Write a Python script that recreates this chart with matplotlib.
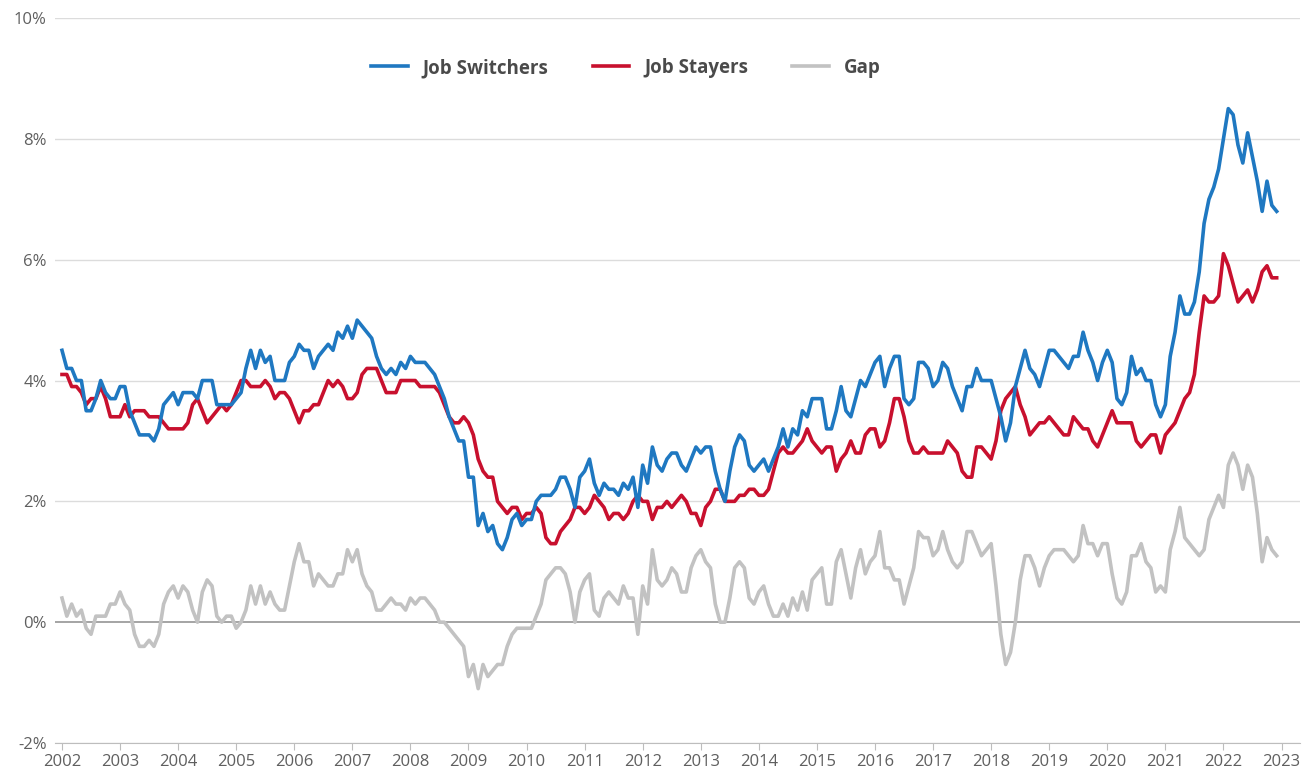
import matplotlib.pyplot as plt
import numpy as np

plt.rcParams['font.family'] = ['Open Sans', 'DejaVu Sans']

# monthly values, Jan 2002 - Dec 2022 (percent)
switchers = [
    4.5, 4.2, 4.2, 4.0, 4.0, 3.5, 3.5, 3.7, 4.0, 3.8, 3.7, 3.7,
    3.9, 3.9, 3.5, 3.3, 3.1, 3.1, 3.1, 3.0, 3.2, 3.6, 3.7, 3.8,
    3.6, 3.8, 3.8, 3.8, 3.7, 4.0, 4.0, 4.0, 3.6, 3.6, 3.6, 3.6,
    3.7, 3.8, 4.2, 4.5, 4.2, 4.5, 4.3, 4.4, 4.0, 4.0, 4.0, 4.3,
    4.4, 4.6, 4.5, 4.5, 4.2, 4.4, 4.5, 4.6, 4.5, 4.8, 4.7, 4.9,
    4.7, 5.0, 4.9, 4.8, 4.7, 4.4, 4.2, 4.1, 4.2, 4.1, 4.3, 4.2,
    4.4, 4.3, 4.3, 4.3, 4.2, 4.1, 3.9, 3.7, 3.4, 3.2, 3.0, 3.0,
    2.4, 2.4, 1.6, 1.8, 1.5, 1.6, 1.3, 1.2, 1.4, 1.7, 1.8, 1.6,
    1.7, 1.7, 2.0, 2.1, 2.1, 2.1, 2.2, 2.4, 2.4, 2.2, 1.9, 2.4,
    2.5, 2.7, 2.3, 2.1, 2.3, 2.2, 2.2, 2.1, 2.3, 2.2, 2.4, 1.9,
    2.6, 2.3, 2.9, 2.6, 2.5, 2.7, 2.8, 2.8, 2.6, 2.5, 2.7, 2.9,
    2.8, 2.9, 2.9, 2.5, 2.2, 2.0, 2.5, 2.9, 3.1, 3.0, 2.6, 2.5,
    2.6, 2.7, 2.5, 2.7, 2.9, 3.2, 2.9, 3.2, 3.1, 3.5, 3.4, 3.7,
    3.7, 3.7, 3.2, 3.2, 3.5, 3.9, 3.5, 3.4, 3.7, 4.0, 3.9, 4.1,
    4.3, 4.4, 3.9, 4.2, 4.4, 4.4, 3.7, 3.6, 3.7, 4.3, 4.3, 4.2,
    3.9, 4.0, 4.3, 4.2, 3.9, 3.7, 3.5, 3.9, 3.9, 4.2, 4.0, 4.0,
    4.0, 3.7, 3.4, 3.0, 3.3, 3.9, 4.2, 4.5, 4.2, 4.1, 3.9, 4.2,
    4.5, 4.5, 4.4, 4.3, 4.2, 4.4, 4.4, 4.8, 4.5, 4.3, 4.0, 4.3,
    4.5, 4.3, 3.7, 3.6, 3.8, 4.4, 4.1, 4.2, 4.0, 4.0, 3.6, 3.4,
    3.6, 4.4, 4.8, 5.4, 5.1, 5.1, 5.3, 5.8, 6.6, 7.0, 7.2, 7.5,
    8.0, 8.5, 8.4, 7.9, 7.6, 8.1, 7.7, 7.3, 6.8, 7.3, 6.9, 6.8,
]

stayers = [
    4.1, 4.1, 3.9, 3.9, 3.8, 3.6, 3.7, 3.7, 3.9, 3.7, 3.4, 3.4,
    3.4, 3.6, 3.4, 3.5, 3.5, 3.5, 3.4, 3.4, 3.4, 3.3, 3.2, 3.2,
    3.2, 3.2, 3.3, 3.6, 3.7, 3.5, 3.3, 3.4, 3.5, 3.6, 3.5, 3.6,
    3.8, 4.0, 4.0, 3.9, 3.9, 3.9, 4.0, 3.9, 3.7, 3.8, 3.8, 3.7,
    3.5, 3.3, 3.5, 3.5, 3.6, 3.6, 3.8, 4.0, 3.9, 4.0, 3.9, 3.7,
    3.7, 3.8, 4.1, 4.2, 4.2, 4.2, 4.0, 3.8, 3.8, 3.8, 4.0, 4.0,
    4.0, 4.0, 3.9, 3.9, 3.9, 3.9, 3.8, 3.6, 3.4, 3.3, 3.3, 3.4,
    3.3, 3.1, 2.7, 2.5, 2.4, 2.4, 2.0, 1.9, 1.8, 1.9, 1.9, 1.7,
    1.8, 1.8, 1.9, 1.8, 1.4, 1.3, 1.3, 1.5, 1.6, 1.7, 1.9, 1.9,
    1.8, 1.9, 2.1, 2.0, 1.9, 1.7, 1.8, 1.8, 1.7, 1.8, 2.0, 2.1,
    2.0, 2.0, 1.7, 1.9, 1.9, 2.0, 1.9, 2.0, 2.1, 2.0, 1.8, 1.8,
    1.6, 1.9, 2.0, 2.2, 2.2, 2.0, 2.0, 2.0, 2.1, 2.1, 2.2, 2.2,
    2.1, 2.1, 2.2, 2.5, 2.8, 2.9, 2.8, 2.8, 2.9, 3.0, 3.2, 3.0,
    2.9, 2.8, 2.9, 2.9, 2.5, 2.7, 2.8, 3.0, 2.8, 2.8, 3.1, 3.2,
    3.2, 2.9, 3.0, 3.3, 3.7, 3.7, 3.4, 3.0, 2.8, 2.8, 2.9, 2.8,
    2.8, 2.8, 2.8, 3.0, 2.9, 2.8, 2.5, 2.4, 2.4, 2.9, 2.9, 2.8,
    2.7, 3.0, 3.5, 3.7, 3.8, 3.9, 3.6, 3.4, 3.1, 3.2, 3.3, 3.3,
    3.4, 3.3, 3.2, 3.1, 3.1, 3.4, 3.3, 3.2, 3.2, 3.0, 2.9, 3.1,
    3.3, 3.5, 3.3, 3.3, 3.3, 3.3, 3.0, 2.9, 3.0, 3.1, 3.1, 2.8,
    3.1, 3.2, 3.3, 3.5, 3.7, 3.8, 4.1, 4.8, 5.4, 5.3, 5.3, 5.4,
    6.1, 5.9, 5.6, 5.3, 5.4, 5.5, 5.3, 5.5, 5.8, 5.9, 5.7, 5.7,
]

gap = [
    0.4, 0.1, 0.3, 0.1, 0.2, -0.1, -0.2, 0.1, 0.1, 0.1, 0.3, 0.3,
    0.5, 0.3, 0.2, -0.2, -0.4, -0.4, -0.3, -0.4, -0.2, 0.3, 0.5, 0.6,
    0.4, 0.6, 0.5, 0.2, 0.0, 0.5, 0.7, 0.6, 0.1, 0.0, 0.1, 0.1,
    -0.1, 0.0, 0.2, 0.6, 0.3, 0.6, 0.3, 0.5, 0.3, 0.2, 0.2, 0.6,
    1.0, 1.3, 1.0, 1.0, 0.6, 0.8, 0.7, 0.6, 0.6, 0.8, 0.8, 1.2,
    1.0, 1.2, 0.8, 0.6, 0.5, 0.2, 0.2, 0.3, 0.4, 0.3, 0.3, 0.2,
    0.4, 0.3, 0.4, 0.4, 0.3, 0.2, 0.0, 0.0, -0.1, -0.2, -0.3, -0.4,
    -0.9, -0.7, -1.1, -0.7, -0.9, -0.8, -0.7, -0.7, -0.4, -0.2, -0.1, -0.1,
    -0.1, -0.1, 0.1, 0.3, 0.7, 0.8, 0.9, 0.9, 0.8, 0.5, 0.0, 0.5,
    0.7, 0.8, 0.2, 0.1, 0.4, 0.5, 0.4, 0.3, 0.6, 0.4, 0.4, -0.2,
    0.6, 0.3, 1.2, 0.7, 0.6, 0.7, 0.9, 0.8, 0.5, 0.5, 0.9, 1.1,
    1.2, 1.0, 0.9, 0.3, 0.0, 0.0, 0.4, 0.9, 1.0, 0.9, 0.4, 0.3,
    0.5, 0.6, 0.3, 0.1, 0.1, 0.3, 0.1, 0.4, 0.2, 0.5, 0.2, 0.7,
    0.8, 0.9, 0.3, 0.3, 1.0, 1.2, 0.8, 0.4, 0.9, 1.2, 0.8, 1.0,
    1.1, 1.5, 0.9, 0.9, 0.7, 0.7, 0.3, 0.6, 0.9, 1.5, 1.4, 1.4,
    1.1, 1.2, 1.5, 1.2, 1.0, 0.9, 1.0, 1.5, 1.5, 1.3, 1.1, 1.2,
    1.3, 0.6, -0.2, -0.7, -0.5, 0.0, 0.7, 1.1, 1.1, 0.9, 0.6, 0.9,
    1.1, 1.2, 1.2, 1.2, 1.1, 1.0, 1.1, 1.6, 1.3, 1.3, 1.1, 1.3,
    1.3, 0.8, 0.4, 0.3, 0.5, 1.1, 1.1, 1.3, 1.0, 0.9, 0.5, 0.6,
    0.5, 1.2, 1.5, 1.9, 1.4, 1.3, 1.2, 1.1, 1.2, 1.7, 1.9, 2.1,
    1.9, 2.6, 2.8, 2.6, 2.2, 2.6, 2.4, 1.8, 1.0, 1.4, 1.2, 1.1,
]

years = list(range(2002, 2024))
y_ticks = [-2, 0, 2, 4, 6, 8, 10]


def main():
    t = 2002 + np.arange(len(switchers)) / 12.0

    fig = plt.figure(figsize=(13.1, 7.8), dpi=100)
    ax = fig.add_axes([0.042, 0.0474, 0.95, 0.9295])

    for v in y_ticks:
        if v == 0:
            ax.axhline(v, color="#8c8c8c", lw=1.1, zorder=1)
        else:
            ax.axhline(v, color="#dcdcdc", lw=1.0, zorder=1)

    ax.plot(t, gap, color="#c2c2c2", lw=2.6, label="Gap", zorder=2)
    ax.plot(t, stayers, color="#c8102e", lw=2.6, label="Job Stayers", zorder=3)
    ax.plot(t, switchers, color="#1f78c1", lw=2.6, label="Job Switchers", zorder=4)

    ax.set_xlim(2001.88, 2023.31)
    ax.set_ylim(-2, 10)
    ax.set_xticks(years)
    ax.set_xticklabels([str(y) for y in years])
    ax.set_yticks(y_ticks)
    ax.set_yticklabels([f"{v}%" for v in y_ticks])

    for s in ["top", "right", "left"]:
        ax.spines[s].set_visible(False)
    ax.spines["bottom"].set_color("#bdbdbd")
    ax.tick_params(axis="x", colors="#5f5f5f", labelsize=12, length=5,
                   color="#bdbdbd", pad=3)
    ax.tick_params(axis="y", colors="#5f5f5f", labelsize=12, length=0, pad=6)

    handles, labels = ax.get_legend_handles_labels()
    order = [2, 1, 0]
    leg = ax.legend([handles[i] for i in order], [labels[i] for i in order],
                    loc="center", bbox_to_anchor=(0.4587, 0.931), ncol=3,
                    frameon=False, handlelength=1.95, columnspacing=2.35,
                    handletextpad=0.8, prop={"weight": "bold", "size": 13.5})
    for txt in leg.get_texts():
        txt.set_color("#4a4a4a")

    fig.savefig("out.png", dpi=100)


if __name__ == "__main__":
    main()
